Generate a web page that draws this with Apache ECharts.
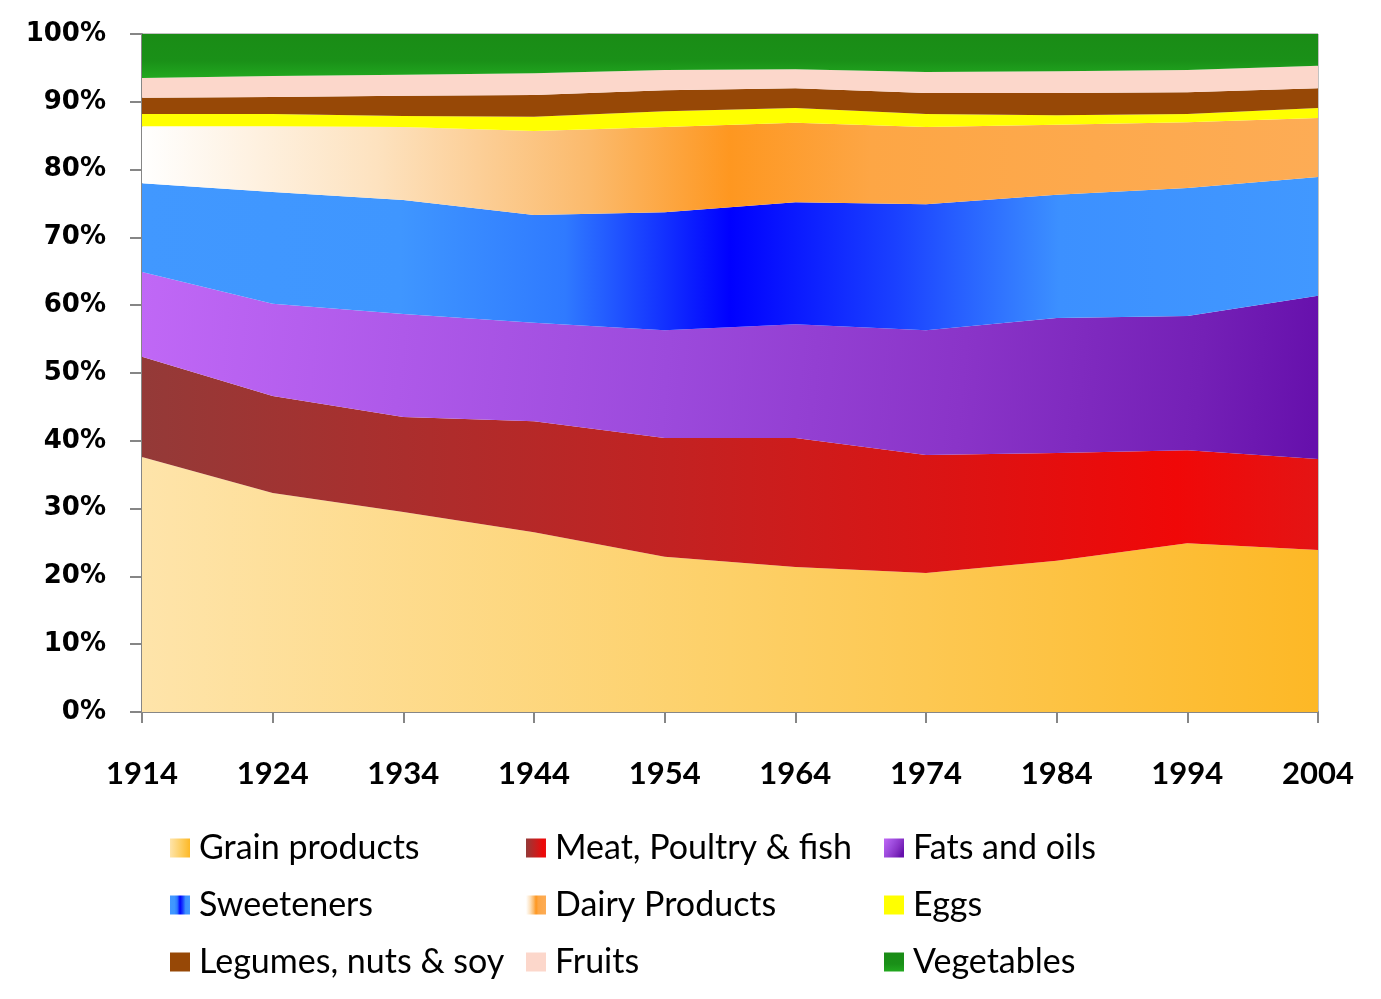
<!DOCTYPE html>
<html>
<head>
<meta charset="utf-8">
<script src="https://cdn.jsdelivr.net/npm/echarts@6/dist/echarts.min.js"></script>
<style>
html,body{margin:0;padding:0;background:#fff;}
#chart{width:1381px;height:999px;}
</style>
</head>
<body>
<div id="chart"></div>
<script>
const years = ['1914','1924','1934','1944','1954','1964','1974','1984','1994','2004'];
const grain = [37.6, 32.3, 29.5, 26.5, 22.9, 21.4, 20.5, 22.3, 24.9, 23.9];
const meat = [14.8, 14.3, 14.0, 16.4, 17.5, 19.0, 17.4, 15.9, 13.7, 13.4];
const fats = [12.5, 13.6, 15.2, 14.5, 15.9, 16.8, 18.4, 19.9, 19.8, 24.1];
const sweeteners = [13.1, 16.5, 16.8, 15.9, 17.4, 18.0, 18.6, 18.2, 18.9, 17.5];
const dairy = [8.4, 9.7, 10.8, 12.4, 12.6, 11.7, 11.4, 10.3, 9.7, 8.7];
const eggs = [1.8, 1.8, 1.6, 2.1, 2.3, 2.2, 1.9, 1.4, 1.2, 1.5];
const legumes = [2.4, 2.5, 3.0, 3.2, 3.1, 2.9, 3.1, 3.3, 3.2, 2.9];
const fruits = [2.9, 3.1, 3.1, 3.2, 3.0, 2.8, 3.1, 3.2, 3.3, 3.3];
const vegetables = [6.5, 6.2, 6.0, 5.8, 5.3, 5.2, 5.6, 5.5, 5.3, 4.7];

const names = ['Grain products','Meat, Poultry & fish','Fats and oils','Sweeteners','Dairy Products','Eggs','Legumes, nuts & soy','Fruits','Vegetables'];
const values = [grain, meat, fats, sweeteners, dairy, eggs, legumes, fruits, vegetables];

function lg(x, y, x2, y2, stops) {
  return new echarts.graphic.LinearGradient(x, y, x2, y2, stops.map(s => ({offset: s[0], color: s[1]})));
}
const fills = [
  lg(0,0,1,0,[[0,'#fee4aa'],[0.5,'#fdd068'],[1,'#fdb826']]),
  lg(0,0,1,0,[[0,'#943a38'],[0.45,'#c22222'],[0.88,'#f00808'],[1,'#e41414']]),
  lg(0,0,1,0.6,[[0,'#c068f6'],[0.45,'#9c4adc'],[0.7,'#8a34c8'],[0.9,'#7420b6'],[1,'#6610ac']]),
  lg(0,0,1,0,[[0,'#4198ff'],[0.22,'#3f96ff'],[0.36,'#2f7aff'],[0.5,'#0000ff'],[0.64,'#1a40ff'],[0.78,'#3c90ff'],[1,'#4198ff']]),
  lg(0,0,1,0,[[0,'#ffffff'],[0.2,'#fde2bf'],[0.38,'#fbba6c'],[0.5,'#fe9720'],[0.62,'#fda645'],[1,'#fdac55']]),
  '#ffff00',
  '#974806',
  '#fcd7cb',
  lg(0,0,0,1,[[0,'#1a8c16'],[0.6,'#1a9018'],[1,'#22a81f']])
];

const series = names.map((n, i) => ({
  name: n,
  type: 'line',
  stack: 'total',
  data: values[i],
  showSymbol: false,
  symbol: 'none',
  lineStyle: {width: 0},
  areaStyle: {color: fills[i], opacity: 1},
  itemStyle: {color: fills[i]},
  emphasis: {disabled: true}
}));

const legendText = {fontFamily: 'Lato, "Open Sans", sans-serif', fontSize: 34, color: '#000', padding: [0, 0, 0, 4]};
function legendCol(left, items) {
  return {
    orient: 'vertical', left: left, top: 831, itemGap: 23,
    itemWidth: 20, itemHeight: 19, icon: 'rect', padding: 0,
    textStyle: legendText, data: items
  };
}

const chart = echarts.init(document.getElementById('chart'), null, {renderer: 'canvas'});
chart.setOption({
  animation: false,
  backgroundColor: '#fff',
  grid: {left: 142, right: 63, top: 34, bottom: 287, show: true, borderColor: '#868686', borderWidth: 1, backgroundColor: 'transparent'},
  legend: [
    legendCol(170, [names[0], names[3], names[6]]),
    legendCol(526, [names[1], names[4], names[7]]),
    legendCol(884, [names[2], names[5], names[8]])
  ],
  xAxis: {
    type: 'category', data: years, boundaryGap: false,
    axisLine: {lineStyle: {color: '#868686', width: 2}},
    axisTick: {show: true, length: 11, lineStyle: {color: '#868686', width: 2}},
    axisLabel: {fontFamily: 'Lato, sans-serif', fontWeight: 'bold', fontSize: 31, color: '#000', margin: 46}
  },
  yAxis: {
    type: 'value', min: 0, max: 100, interval: 10,
    splitLine: {show: false},
    axisLine: {show: true, lineStyle: {color: '#868686', width: 2}},
    axisTick: {show: true, length: 12, lineStyle: {color: '#868686', width: 2}},
    axisLabel: {formatter: '{value}%', fontFamily: '"DejaVu Sans", sans-serif', fontWeight: 'bold', fontSize: 26, color: '#000', margin: 36}
  },
  series: series
});
</script>
</body>
</html>
